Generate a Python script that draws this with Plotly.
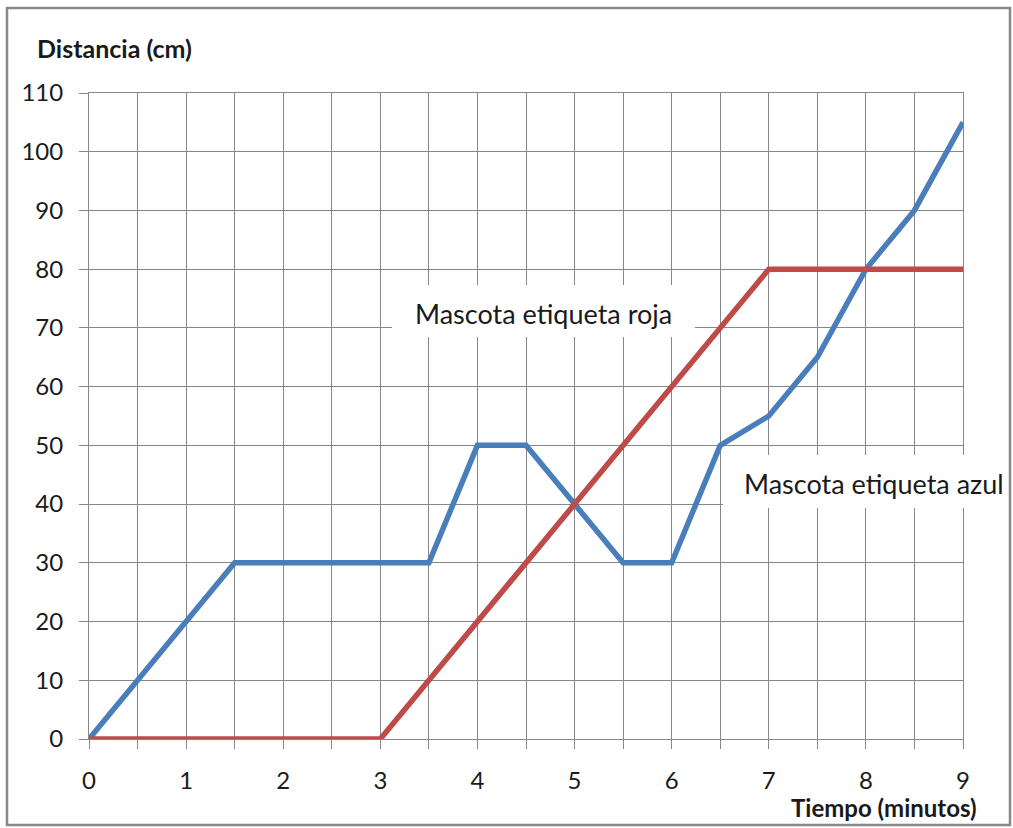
import plotly.graph_objects as go

# Data
tiempo = [0, 0.5, 1, 1.5, 2, 2.5, 3, 3.5, 4, 4.5, 5, 5.5, 6, 6.5, 7, 7.5, 8, 8.5, 9]
azul = [0, 10, 20, 30, 30, 30, 30, 30, 50, 50, 40, 30, 30, 50, 55, 65, 80, 90, 105]
roja = [0, 0, 0, 0, 0, 0, 0, 10, 20, 30, 40, 50, 60, 70, 80, 80, 80, 80, 80]
x_tickvals = [0, 0.5, 1, 1.5, 2, 2.5, 3, 3.5, 4, 4.5, 5, 5.5, 6, 6.5, 7, 7.5, 8, 8.5, 9]
x_ticktext = ["0", "", "1", "", "2", "", "3", "", "4", "", "5", "", "6", "", "7", "", "8", "", "9"]
y_tickvals = [0, 10, 20, 30, 40, 50, 60, 70, 80, 90, 100, 110]

W, H = 1013, 828
L, R, T, B = 89, 963, 93, 739

def px(xp):
    return (xp - L) / (R - L)

def py(yp):
    return (B - yp) / (B - T)

FONT = "Lato, 'Open Sans', sans-serif"
GRID = "#878787"
TXT = "#1a1a1a"

fig = go.Figure()
fig.add_trace(go.Scatter(x=tiempo, y=azul, mode="lines",
                         line=dict(color="#4a7ebb", width=5.5),
                         cliponaxis=False, name="Mascota etiqueta azul"))
fig.add_trace(go.Scatter(x=tiempo, y=roja, mode="lines",
                         line=dict(color="#be4b48", width=5.5),
                         cliponaxis=False, name="Mascota etiqueta roja"))

fig.update_layout(
    width=W, height=H,
    margin=dict(l=L, r=W - R, t=T, b=H - B, pad=0),
    paper_bgcolor="white", plot_bgcolor="white",
    showlegend=False,
    font=dict(family=FONT, color=TXT),
    xaxis=dict(range=[0, 9], tickvals=x_tickvals, ticktext=x_ticktext,
               showgrid=True, gridcolor=GRID, gridwidth=1,
               showline=True, linecolor=GRID, linewidth=1, mirror=True,
               ticks="outside", ticklen=9, tickcolor=GRID, tickwidth=1,
               tickfont=dict(size=24, family=FONT, color=TXT),
               ticklabelstandoff=11, zeroline=False, fixedrange=True),
    yaxis=dict(range=[0, 110], tickvals=y_tickvals,
               showgrid=True, gridcolor=GRID, gridwidth=1,
               showline=True, linecolor=GRID, linewidth=1, mirror=True,
               ticks="outside", ticklen=9, tickcolor=GRID, tickwidth=1,
               tickfont=dict(size=24, family=FONT, color=TXT),
               ticklabelstandoff=11, zeroline=False, fixedrange=True),
)

shapes = [
    # white label backgrounds
    dict(type="rect", xref="paper", yref="paper", layer="above",
         x0=px(392), x1=px(695), y0=py(337), y1=py(285),
         fillcolor="white", line=dict(width=0)),
    dict(type="rect", xref="paper", yref="paper", layer="above",
         x0=px(723), x1=px(1012), y0=py(508), y1=py(455),
         fillcolor="white", line=dict(width=0)),
    # outer frame
    dict(type="rect", xref="paper", yref="paper", layer="above",
         x0=px(7), x1=px(1010), y0=py(825), y1=py(8),
         fillcolor="rgba(0,0,0,0)", line=dict(color="#898989", width=2.5)),
]
fig.update_layout(shapes=shapes)

annotations = [
    dict(text="<b>Distancia (cm)</b>", xref="paper", yref="paper",
         x=px(35), y=py(48), xanchor="left", yanchor="middle", showarrow=False,
         font=dict(size=25, family=FONT, color=TXT)),
    dict(text="<b>Tiempo (minutos)</b>", xref="paper", yref="paper",
         x=px(979), y=py(808), xanchor="right", yanchor="middle", showarrow=False,
         font=dict(size=24, family=FONT, color=TXT)),
    dict(text="Mascota etiqueta roja", xref="paper", yref="paper",
         x=px(543), y=py(313), xanchor="center", yanchor="middle", showarrow=False,
         font=dict(size=27, family=FONT, color=TXT)),
    dict(text="Mascota etiqueta azul", xref="paper", yref="paper",
         x=px(874), y=py(483), xanchor="center", yanchor="middle", showarrow=False,
         font=dict(size=27, family=FONT, color=TXT)),
]
fig.update_layout(annotations=annotations)

fig.write_html("out.html", config={"displayModeBar": False},
               post_script="document.body.style.margin='0';document.body.style.overflow='hidden';")
